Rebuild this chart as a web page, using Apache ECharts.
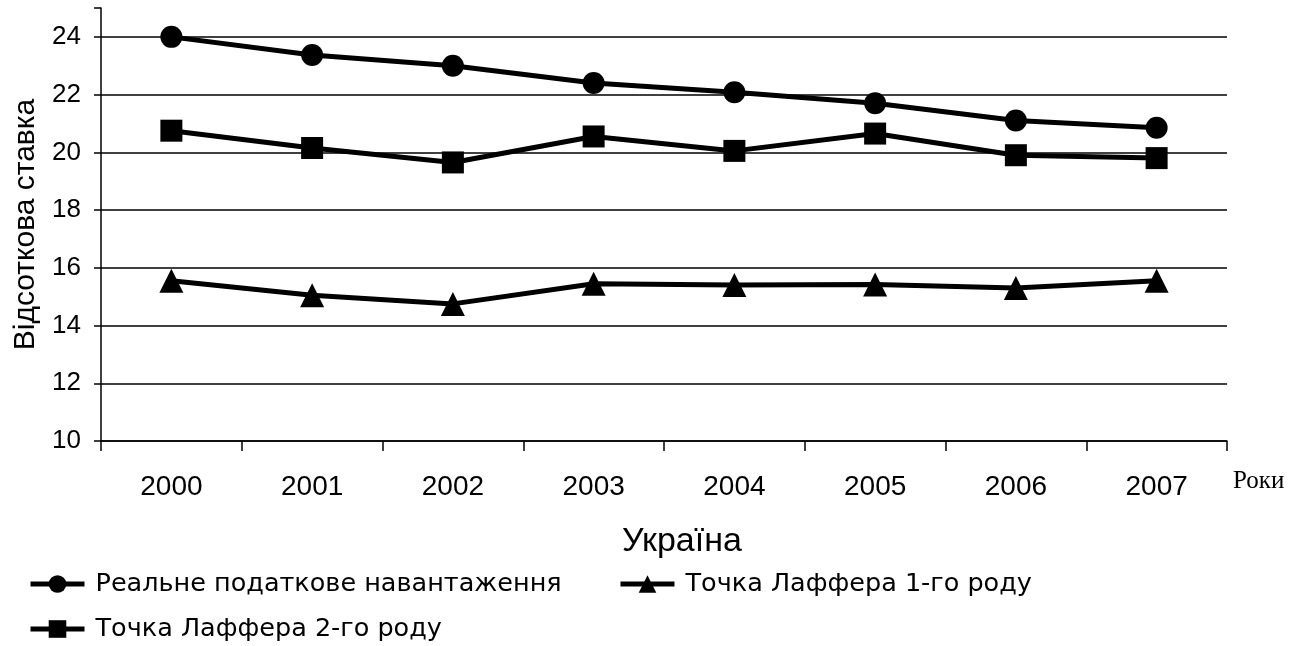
<!DOCTYPE html>
<html><head><meta charset="utf-8">
<script src="https://cdn.jsdelivr.net/npm/echarts@6/dist/echarts.min.js"></script>
<style>html,body{margin:0;padding:0;background:#fff}#c{width:1307px;height:646px}</style>
</head><body><div id="c"></div>
<script>
const years = ['2000','2001','2002','2003','2004','2005','2006','2007'];
const realLoad = [24.0, 23.37, 23.0, 22.4, 22.08, 21.7, 21.1, 20.85];
const laffer1 = [15.55, 15.05, 14.75, 15.45, 15.4, 15.42, 15.3, 15.55];
const laffer2 = [20.75, 20.15, 19.65, 20.55, 20.05, 20.65, 19.9, 19.8];
const names = ['Реальне податкове навантаження', 'Точка Лаффера 1-го роду', 'Точка Лаффера 2-го роду'];

const font = 'Liberation Sans, Arial, sans-serif';
const chart = echarts.init(document.getElementById('c'));
const legendBase = {
  itemWidth: 54, itemHeight: 22,
  textStyle: {fontFamily: 'DejaVu Sans, sans-serif', fontSize: 25.5, color: '#000', padding: [0, 0, 0, 6]},
  lineStyle: {width: 5, color: '#000'},
  itemGap: 10, selectedMode: false, padding: 0
};
const lineSeries = (name, data, symbol, size) => ({
  name, type: 'line', data, symbol, symbolSize: size,
  lineStyle: {color: '#000', width: 5},
  itemStyle: {color: '#000'},
  animation: false
});
chart.setOption({
  animation: false,
  title: {
    text: 'Україна', left: 617, top: 520,
    textStyle: {fontFamily: font, fontSize: 34, fontWeight: 'normal', color: '#000'}
  },
  legend: [
    Object.assign({data: [names[0]], left: 28, top: 571}, legendBase),
    Object.assign({data: [names[1]], left: 618, top: 571}, legendBase),
    Object.assign({data: [names[2]], left: 28, top: 616}, legendBase)
  ],
  grid: {left: 101, right: 80, top: 8, bottom: 205},
  xAxis: {
    type: 'category', data: years, boundaryGap: true,
    axisLine: {lineStyle: {color: '#000', width: 1.5}},
    axisTick: {show: true, length: 10, lineStyle: {color: '#000', width: 1.5}},
    axisLabel: {fontFamily: font, fontSize: 28, color: '#000', margin: 32}
  },
  yAxis: {
    type: 'value', min: 10, max: 25, interval: 2,
    name: 'Відсоткова ставка', nameLocation: 'middle', nameGap: 58,
    nameTextStyle: {fontFamily: font, fontSize: 30, color: '#000'},
    axisLine: {show: true, lineStyle: {color: '#000', width: 1.5}},
    axisTick: {show: true, length: 7, lineStyle: {color: '#000', width: 1.5}},
    axisLabel: {fontFamily: font, fontSize: 26, color: '#000', margin: 20,
      formatter: v => (v % 2 === 0 ? String(v) : '')},
    splitLine: {show: true, lineStyle: {color: ['#000','#000','#000','#000','#000','#000','#000','#000','rgba(0,0,0,0)'], width: 1.5}}
  },
  graphic: [{
    type: 'text',
    style: {x: 1233, y: 481, verticalAlign: 'middle', text: 'Роки',
      fontFamily: 'Liberation Serif, Times New Roman, serif', fontSize: 25, fill: '#000'}
  }],
  series: [
    lineSeries(names[0], realLoad, 'circle', 22),
    lineSeries(names[1], laffer1, 'triangle', 24),
    lineSeries(names[2], laffer2, 'rect', 22)
  ]
});
</script></body></html>
